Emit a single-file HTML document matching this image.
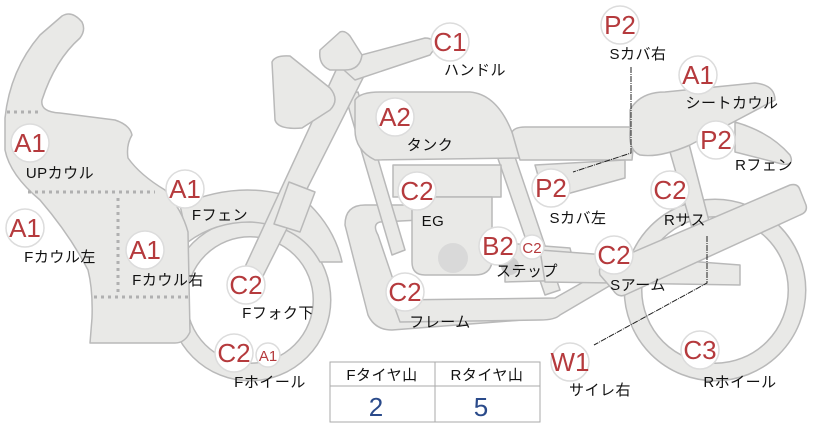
<!DOCTYPE html>
<html><head><meta charset="utf-8"><style>
html,body{margin:0;padding:0;background:#fff}
svg{display:block}
text{font-family:"Liberation Sans","Noto Sans CJK JP",sans-serif}
.s{fill:#e9e9e7;stroke:#b9b9b9;stroke-width:1.5;stroke-linejoin:round}
.c{fill:#fff;stroke:#dcdcdc;stroke-width:1.5}
.r{fill:#b53a3d;font-size:26px;text-anchor:middle}
.rs{fill:#b53a3d;font-size:15px;text-anchor:middle}
.t{fill:#111;font-size:15px;text-anchor:middle;letter-spacing:0.5px}
</style></head><body>
<svg width="822" height="425" viewBox="0 0 822 425" xmlns="http://www.w3.org/2000/svg">
<circle cx="715" cy="290" r="82" fill="none" stroke="#b9b9b9" stroke-width="19"/>
<circle cx="715" cy="290" r="82" fill="none" stroke="#e9e9e7" stroke-width="16"/>
<circle cx="250" cy="300" r="72" fill="none" stroke="#b9b9b9" stroke-width="19"/>
<circle cx="250" cy="300" r="72" fill="none" stroke="#e9e9e7" stroke-width="16"/>
<path class="s" d="M180,205 Q250,175 310,205 Q335,230 342,262 L320,262 Q300,225 250,222 Q215,222 188,242 Z"/>
<path class="s" d="M345,225 Q345,205 365,205 L420,205 L420,220 L380,222 Q372,224 378,235 L400,300 L545,300 L548,318 L392,330 Q375,330 368,315 Z"/>
<path class="s" d="M392,300 L555,298 L640,250 L650,262 L560,315 Q555,320 540,320 L400,322 Z"/>
<path class="s" d="M345,95 L358,92 L405,250 L392,255 Z"/>
<path class="s" d="M495,150 L512,148 L560,290 L545,295 Z"/>
<rect class="s" x="393" y="165" width="108" height="32"/>
<path class="s" d="M412,197 L492,197 L492,262 Q490,275 475,275 L425,275 Q412,275 412,262 Z"/>
<circle cx="453" cy="258" r="15" fill="#d9d9d9"/>
<path class="s" d="M505,243 L570,248 L578,280 L505,282 Z"/>
<circle cx="510" cy="266" r="9" fill="#cfcfcf"/><circle cx="555" cy="266" r="9" fill="#cfcfcf"/>
<path class="s" d="M355,100 Q360,92 380,92 L470,92 Q505,95 520,158 L375,160 Q355,150 355,130 Z"/>
<path class="s" d="M512,132 Q515,127 525,127 L635,127 L632,160 L520,160 Z"/>
<path class="s" d="M535,165 L625,160 L625,178 L545,200 Z"/>
<path class="s" d="M668,145 L688,140 L710,225 L692,228 Z"/>
<path class="s" d="M735,122 Q770,132 790,155 Q795,166 782,164 L735,152 Z"/>
<path class="s" d="M630,110 Q640,92 665,92 L755,83 Q775,85 775,100 L690,145 Q660,158 640,155 Q628,150 630,130 Z"/>
<path class="s" d="M540,250 L740,265 L740,285 L545,282 Z"/>
<path class="s" d="M603,265 L790,185 Q798,183 800,190 L806,205 Q808,212 800,215 L625,295 Q618,298 613,290 L600,275 Q598,268 603,265 Z"/>
<path class="s" d="M337,68 L366,72 L260,282 Q250,292 238,282 Z"/>
<path class="s" d="M289,182 L315,192 L300,232 L274,224 Z"/>
<path class="s" d="M335,62 L425,38 Q435,38 435,48 L430,55 L355,80 Z"/>
<path class="s" d="M272,62 Q275,55 290,56 L330,88 Q340,100 330,110 L302,128 Q278,130 275,120 Z"/>
<path class="s" d="M320,50 L340,32 Q345,30 350,36 L362,55 Q360,70 345,70 L330,70 Q318,65 320,50 Z"/>
<path class="s" d="M62,16 Q72,10 82,22 Q86,30 80,38 Q55,60 42,100 Q40,112 60,113 L115,120 Q130,125 132,135 Q126,145 128,158 Q140,175 165,190 Q182,210 188,232 L190,332 Q185,343 175,343 L90,343 L92,318 Q93,290 88,270 Q70,235 40,200 Q10,175 5,150 L5,118 Q10,70 40,35 Z"/>
<g stroke="#b0b0b0" stroke-width="3" stroke-dasharray="3,4" fill="none">
<line x1="7" y1="112" x2="40" y2="112"/>
<line x1="28" y1="192" x2="155" y2="192"/>
<line x1="118" y1="198" x2="118" y2="294"/>
<line x1="94" y1="297" x2="188" y2="297"/>
</g>
<path d="M631,67 L631,153 L573,172" fill="none" stroke="#222" stroke-width="1" stroke-dasharray="6,1,1,1"/>
<path d="M707,236 L707,283 L594,345" fill="none" stroke="#222" stroke-width="1" stroke-dasharray="6,1,1,1"/>
<g>
<circle class="c" cx="30" cy="143" r="19"/><text class="r" x="30" y="152">A1</text><text class="t" x="60" y="178">UPカウル</text>
<circle class="c" cx="25" cy="228" r="19"/><text class="r" x="25" y="237">A1</text><text class="t" x="60" y="262">Fカウル左</text>
<circle class="c" cx="145" cy="250" r="19"/><text class="r" x="145" y="259">A1</text><text class="t" x="168" y="285">Fカウル右</text>
<circle class="c" cx="185" cy="189" r="19"/><text class="r" x="185" y="198">A1</text><text class="t" x="220" y="220">Fフェン</text>
<circle class="c" cx="246" cy="285" r="19"/><text class="r" x="246" y="294">C2</text><text class="t" x="278" y="318">Fフォク下</text>
<circle class="c" cx="234" cy="353" r="19"/><text class="r" x="234" y="362">C2</text>
<circle class="c" cx="268" cy="355" r="12"/><text class="rs" x="268" y="361">A1</text><text class="t" x="270" y="387">Fホイール</text>
<circle class="c" cx="395" cy="117" r="19"/><text class="r" x="395" y="126">A2</text><text class="t" x="430" y="150">タンク</text>
<circle class="c" cx="450" cy="42" r="19"/><text class="r" x="450" y="51">C1</text><text class="t" x="475" y="75">ハンドル</text>
<circle class="c" cx="417" cy="191" r="19"/><text class="r" x="417" y="200">C2</text><text class="t" x="433" y="226">EG</text>
<circle class="c" cx="498" cy="246" r="19"/><text class="r" x="498" y="255">B2</text>
<circle class="c" cx="532" cy="247" r="12"/><text class="rs" x="532" y="253">C2</text><text class="t" x="527" y="276">ステップ</text>
<circle class="c" cx="405" cy="292" r="19"/><text class="r" x="405" y="301">C2</text><text class="t" x="440" y="327">フレーム</text>
<circle class="c" cx="551" cy="188" r="19"/><text class="r" x="551" y="197">P2</text><text class="t" x="578" y="223">Sカバ左</text>
<circle class="c" cx="620" cy="25" r="19"/><text class="r" x="620" y="34">P2</text><text class="t" x="638" y="59">Sカバ右</text>
<circle class="c" cx="698" cy="75" r="19"/><text class="r" x="698" y="84">A1</text><text class="t" x="732" y="108">シートカウル</text>
<circle class="c" cx="716" cy="140" r="19"/><text class="r" x="716" y="149">P2</text><text class="t" x="764" y="170">Rフェン</text>
<circle class="c" cx="670" cy="190" r="19"/><text class="r" x="670" y="199">C2</text><text class="t" x="685" y="225">Rサス</text>
<circle class="c" cx="614" cy="255" r="19"/><text class="r" x="614" y="264">C2</text><text class="t" x="638" y="290">Sアーム</text>
<circle class="c" cx="570" cy="362" r="19"/><text class="r" x="570" y="371">W1</text><text class="t" x="600" y="395">サイレ右</text>
<circle class="c" cx="700" cy="350" r="19"/><text class="r" x="700" y="359">C3</text><text class="t" x="740" y="387">Rホイール</text>
</g>
<rect x="330" y="362" width="210" height="60" fill="#fff" stroke="#aaa" stroke-width="1"/>
<line x1="330" y1="386" x2="540" y2="386" stroke="#aaa"/>
<line x1="435" y1="362" x2="435" y2="422" stroke="#aaa"/>
<text class="t" x="382" y="380">Fタイヤ山</text>
<text class="t" x="487" y="380">Rタイヤ山</text>
<text x="376" y="416" fill="#2a4a8a" font-size="26" text-anchor="middle">2</text>
<text x="481" y="416" fill="#2a4a8a" font-size="26" text-anchor="middle">5</text>
</svg>
</body></html>
